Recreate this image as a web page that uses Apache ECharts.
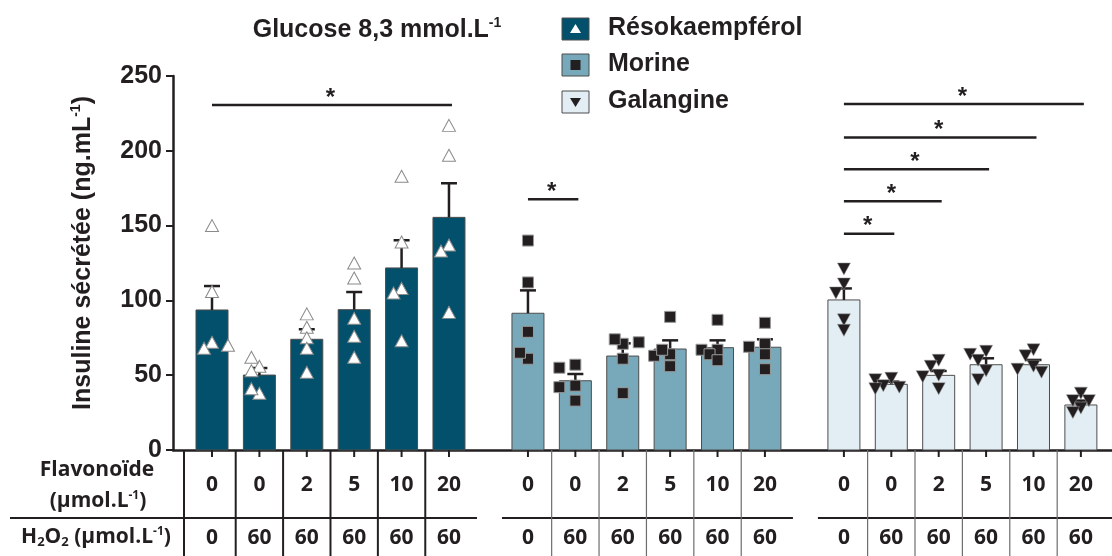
<!DOCTYPE html>
<html><head><meta charset="utf-8">
<script src="https://cdn.jsdelivr.net/npm/echarts@6/dist/echarts.min.js"></script>
<style>html,body{margin:0;padding:0;background:#fff}#c{width:1112px;height:556px}</style>
</head><body><div id="c"></div>
<script>
// ---------- DATA ----------
const groups = ['Résokaempférol', 'Morine', 'Galangine'];
const flavonoidDoses = ['0', '0', '2', '5', '10', '20'];
const h2o2Doses = ['0', '60', '60', '60', '60', '60'];
const yTicks = [0, 50, 100, 150, 200, 250];

const resokaempferolMean = [93.6, 50.1, 74.0, 93.8, 121.7, 155.5];
const resokaempferolSEM  = [16.0, 4.7, 6.7, 11.8, 18.5, 22.8];
const morineMean = [91.4, 46.3, 62.8, 67.5, 68.4, 68.7];
const morineSEM  = [15.3, 4.5, 8.5, 5.8, 4.9, 5.3];
const galangineMean = [100.3, 43.9, 49.9, 57.0, 57.0, 30.1];
const galangineSEM  = [7.7, 1.8, 2.9, 4.3, 3.2, 2.9];

const resokaempferolPoints = [
  [150, 106, 72, 68, 70], [56, 62, 53, 38, 41], [82, 91, 75, 68, 52],
  [125, 115, 88, 76, 62], [183, 139, 108, 105, 73], [217, 197, 137, 133, 92]
];
const morinePoints = [
  [140, 112, 79, 61, 65], [57, 55, 43, 42, 33], [71, 74, 72, 61, 38],
  [89, 64, 63, 67, 56], [87, 67, 67, 64, 60], [85, 71, 69, 64, 54]
];
const galanginePoints = [
  [121, 111, 105, 87, 80], [48, 47, 43, 42, 41], [60, 56, 50, 49, 41],
  [66, 64, 60, 53, 47], [67, 63, 56, 54, 52], [38, 33, 33, 28, 25]
];
// [group, fromBar, toBar, bracket level (ng/mL)]
const significance = [
  [0, 0, 5, 230.6],
  [1, 0, 1, 167.6],
  [2, 0, 1, 144.6], [2, 0, 2, 166.2], [2, 0, 3, 187.6], [2, 0, 4, 208.9], [2, 0, 5, 231.3]
];

// ---------- LAYOUT / STYLE ----------
const means = [resokaempferolMean, morineMean, galangineMean];
const sems = [resokaempferolSEM, morineSEM, galangineSEM];
const points = [resokaempferolPoints, morinePoints, galanginePoints];
const GROUP_STRIDE = 6 + 2 / 3;
const xPos = (g, i) => g * GROUP_STRIDE + i;
const barColors = ['#02506B', '#77A9BA', '#E2EEF3'];
const INK = '#231F20';
const AR = "'Liberation Sans', Arial, sans-serif";
const TB = "'Open Sans', Lato, sans-serif";
const X_MIN = -0.823, X_MAX = 18.99;
const PX_PER_X = 939 / (X_MAX - X_MIN), PX_PER_Y = 374 / 250;

const barData = [];
const tableData = [];
for (let g = 0; g < 3; g++) for (let i = 0; i < 6; i++) {
  barData.push([xPos(g, i), means[g][i], sems[g][i], g]);
  tableData.push([xPos(g, i), 0, g, i]);
}

// beeswarm placement of individual points
function swarm(g) {
  const out = [];
  const step = 8 / PX_PER_X;
  const cands = [0, -step, step, -2 * step, 2 * step];
  for (let i = 0; i < 6; i++) {
    const placed = [];
    points[g][i].forEach(v => {
      let best = 0, bestD = -1;
      for (const o of cands) {
        let dmin = Infinity;
        placed.forEach(p => {
          const dx = (p[0] - o) * PX_PER_X, dy = (p[1] - v) * PX_PER_Y;
          dmin = Math.min(dmin, Math.hypot(dx, dy));
        });
        if (dmin >= 9) { best = o; bestD = Infinity; break; }
        if (dmin > bestD) { bestD = dmin; best = o; }
      }
      placed.push([best, v]);
      out.push([xPos(g, i) + best, v]);
    });
  }
  return out;
}

const sigData = significance.map(s => [xPos(s[0], s[1]), xPos(s[0], s[2]), s[3]]);

const chart = echarts.init(document.getElementById('c'), null, { renderer: 'canvas' });

function txt(x, y, text, font, size, extra) {
  return {
    type: 'text', x: x, y: y,
    style: Object.assign({
      text: text, fill: INK, fontSize: size, fontWeight: 'bold', fontFamily: font,
      align: 'center', verticalAlign: 'middle', textAlign: 'center', textVerticalAlign: 'middle'
    }, extra || {})
  };
}

const supRich = (size, font) => ({
  a: { fontSize: size, fontWeight: 'bold', fontFamily: font, fill: INK, color: INK, lineHeight: size + 2, verticalAlign: 'middle' },
  sup: { fontSize: Math.round(size * 0.58), fontWeight: 'bold', fontFamily: font, fill: INK, color: INK, lineHeight: Math.round(size * 0.58), verticalAlign: 'top' },
  sub: { fontSize: Math.round(size * 0.62), fontWeight: 'bold', fontFamily: font, fill: INK, color: INK, lineHeight: Math.round(size * 0.62), verticalAlign: 'bottom' }
});

const legendY = [29, 65, 102];
const legendEls = [];
groups.forEach((name, g) => {
  const cy = legendY[g];
  legendEls.push({ type: 'rect', shape: { x: 562, y: cy - 11, width: 27, height: 22 }, style: { fill: barColors[g], stroke: '#4d4d4d', lineWidth: 1 } });
  if (g === 0) legendEls.push({ type: 'polygon', shape: { points: [[575.5, cy - 5], [581, cy + 4], [570, cy + 4]] }, style: { fill: '#fff' } });
  if (g === 1) legendEls.push({ type: 'rect', shape: { x: 570.5, y: cy - 5, width: 10, height: 10 }, style: { fill: INK } });
  if (g === 2) legendEls.push({ type: 'polygon', shape: { points: [[570, cy - 4], [581, cy - 4], [575.5, cy + 5]] }, style: { fill: INK } });
  legendEls.push(txt(608, cy - 1, name, AR, 25, { align: 'left', textAlign: 'left' }));
});

const option = {
  animation: false,
  grid: { left: 173, right: 0, top: 76, bottom: 106 },
  xAxis: {
    type: 'value', min: X_MIN, max: X_MAX,
    axisLine: { show: true, onZero: false, lineStyle: { color: INK, width: 2.5 } },
    axisTick: { show: false }, axisLabel: { show: false }, splitLine: { show: false }
  },
  yAxis: {
    type: 'value', min: yTicks[0], max: yTicks[yTicks.length - 1], interval: 50,
    axisLine: { show: true, onZero: false, lineStyle: { color: INK, width: 2.5 } },
    axisTick: { show: true, length: 7, lineStyle: { color: INK, width: 2 } },
    axisLabel: { fontSize: 25, fontWeight: 'bold', fontFamily: AR, color: INK, margin: 11 },
    splitLine: { show: false }
  },
  series: [
    {
      type: 'custom', name: 'bars', z: 2, data: barData, encode: { x: 0, y: 1 },
      renderItem: function (params, api) {
        const x = api.value(0), m = api.value(1), e = api.value(2), g = api.value(3);
        const b = api.coord([x, 0]), t = api.coord([x, m]), et = api.coord([x, m + e]);
        const w = 32;
        return {
          type: 'group', children: [
            { type: 'rect', shape: { x: b[0] - w / 2, y: t[1], width: w, height: b[1] - t[1] }, style: { fill: barColors[g], stroke: '#4d4d4d', lineWidth: 1 } },
            { type: 'line', shape: { x1: t[0], y1: t[1], x2: et[0], y2: et[1] }, style: { stroke: INK, lineWidth: 2.5 } },
            { type: 'line', shape: { x1: et[0] - 8, y1: et[1], x2: et[0] + 8, y2: et[1] }, style: { stroke: INK, lineWidth: 2.5 } }
          ]
        };
      }
    },
    {
      type: 'scatter', name: groups[0], z: 4, data: swarm(0), symbol: 'triangle', symbolSize: [13, 12],
      itemStyle: { color: '#ffffff', borderColor: '#8a8a8a', borderWidth: 1, opacity: 1 }
    },
    {
      type: 'scatter', name: groups[1], z: 4, data: swarm(1), symbol: 'rect', symbolSize: 11,
      itemStyle: { color: INK, borderColor: '#9a9a9a', borderWidth: 1, opacity: 1 }
    },
    {
      type: 'scatter', name: groups[2], z: 4, data: swarm(2), symbol: 'triangle', symbolRotate: 180, symbolSize: [13, 12],
      itemStyle: { color: INK, borderColor: '#9a9a9a', borderWidth: 0.5, opacity: 1 }
    },
    {
      type: 'custom', name: 'significance', z: 3, data: sigData, encode: { x: [0, 1], y: 2 },
      renderItem: function (params, api) {
        const a = api.coord([api.value(0), api.value(2)]), b = api.coord([api.value(1), api.value(2)]);
        return {
          type: 'group', children: [
            { type: 'line', shape: { x1: a[0], y1: a[1], x2: b[0] + 3, y2: b[1] }, style: { stroke: INK, lineWidth: 2.5 } },
            txt((a[0] + b[0]) / 2, a[1] - 7, '*', AR, 24)
          ]
        };
      }
    },
    {
      type: 'custom', name: 'table', z: 3, data: tableData, encode: { x: 0, y: 1 }, clip: false,
      renderItem: function (params, api) {
        const x = api.value(0), g = api.value(2), i = api.value(3);
        const p = api.coord([x, 0]);
        const y0 = p[1];
        const half = PX_PER_X / 2;
        const ch = [
          { type: 'line', shape: { x1: p[0], y1: y0, x2: p[0], y2: y0 + 7 }, style: { stroke: INK, lineWidth: 2 } },
          txt(p[0], y0 + 35, flavonoidDoses[i], TB, 21),
          txt(p[0], y0 + 88, h2o2Doses[i], TB, 21)
        ];
        if (!(i === 0 && g > 0)) {
          const lx = (g === 0 && i === 0) ? p[0] - 28 : p[0] - half;
          ch.push({ type: 'line', shape: { x1: lx, y1: y0, x2: lx, y2: 556 }, style: { stroke: g === 0 ? INK : '#6d6d6d', lineWidth: g === 0 ? 2 : 1.2 } });
        }
        if (i === 0) {
          const x1 = g === 0 ? 10 : p[0] - 26;
          const x2 = g === 2 ? 1112 : p[0] + 5 * PX_PER_X + 28;
          ch.push({ type: 'line', shape: { x1: x1, y1: y0 + 68, x2: x2, y2: y0 + 68 }, style: { stroke: INK, lineWidth: 2 } });
        }
        return { type: 'group', children: ch };
      }
    }
  ],
  graphic: [
    {
      type: 'text', x: 377, y: 30,
      style: {
        text: '{a|Glucose 8,3 mmol.L}{sup|-1}', rich: supRich(25, AR),
        align: 'center', verticalAlign: 'middle', textAlign: 'center', textVerticalAlign: 'middle'
      }
    },
    {
      type: 'text', x: 83, y: 253, rotation: Math.PI / 2,
      style: {
        text: '{a|Insuline sécrétée (ng.mL}{sup|-1}{a|)}', rich: supRich(25, AR),
        align: 'center', verticalAlign: 'middle', textAlign: 'center', textVerticalAlign: 'middle'
      }
    },
    txt(97, 470, 'Flavonoïde', TB, 21),
    {
      type: 'text', x: 98, y: 501,
      style: {
        text: '{a|(µmol.L}{sup|-1}{a|)}', rich: supRich(21, TB),
        align: 'center', verticalAlign: 'middle', textAlign: 'center', textVerticalAlign: 'middle'
      }
    },
    {
      type: 'text', x: 96, y: 537,
      style: {
        text: '{a|H}{sub|2}{a|O}{sub|2}{a| (µmol.L}{sup|-1}{a|)}', rich: supRich(21, TB),
        align: 'center', verticalAlign: 'middle', textAlign: 'center', textVerticalAlign: 'middle'
      }
    }
  ].concat(legendEls)
};
chart.setOption(option);
</script>
</body></html>
